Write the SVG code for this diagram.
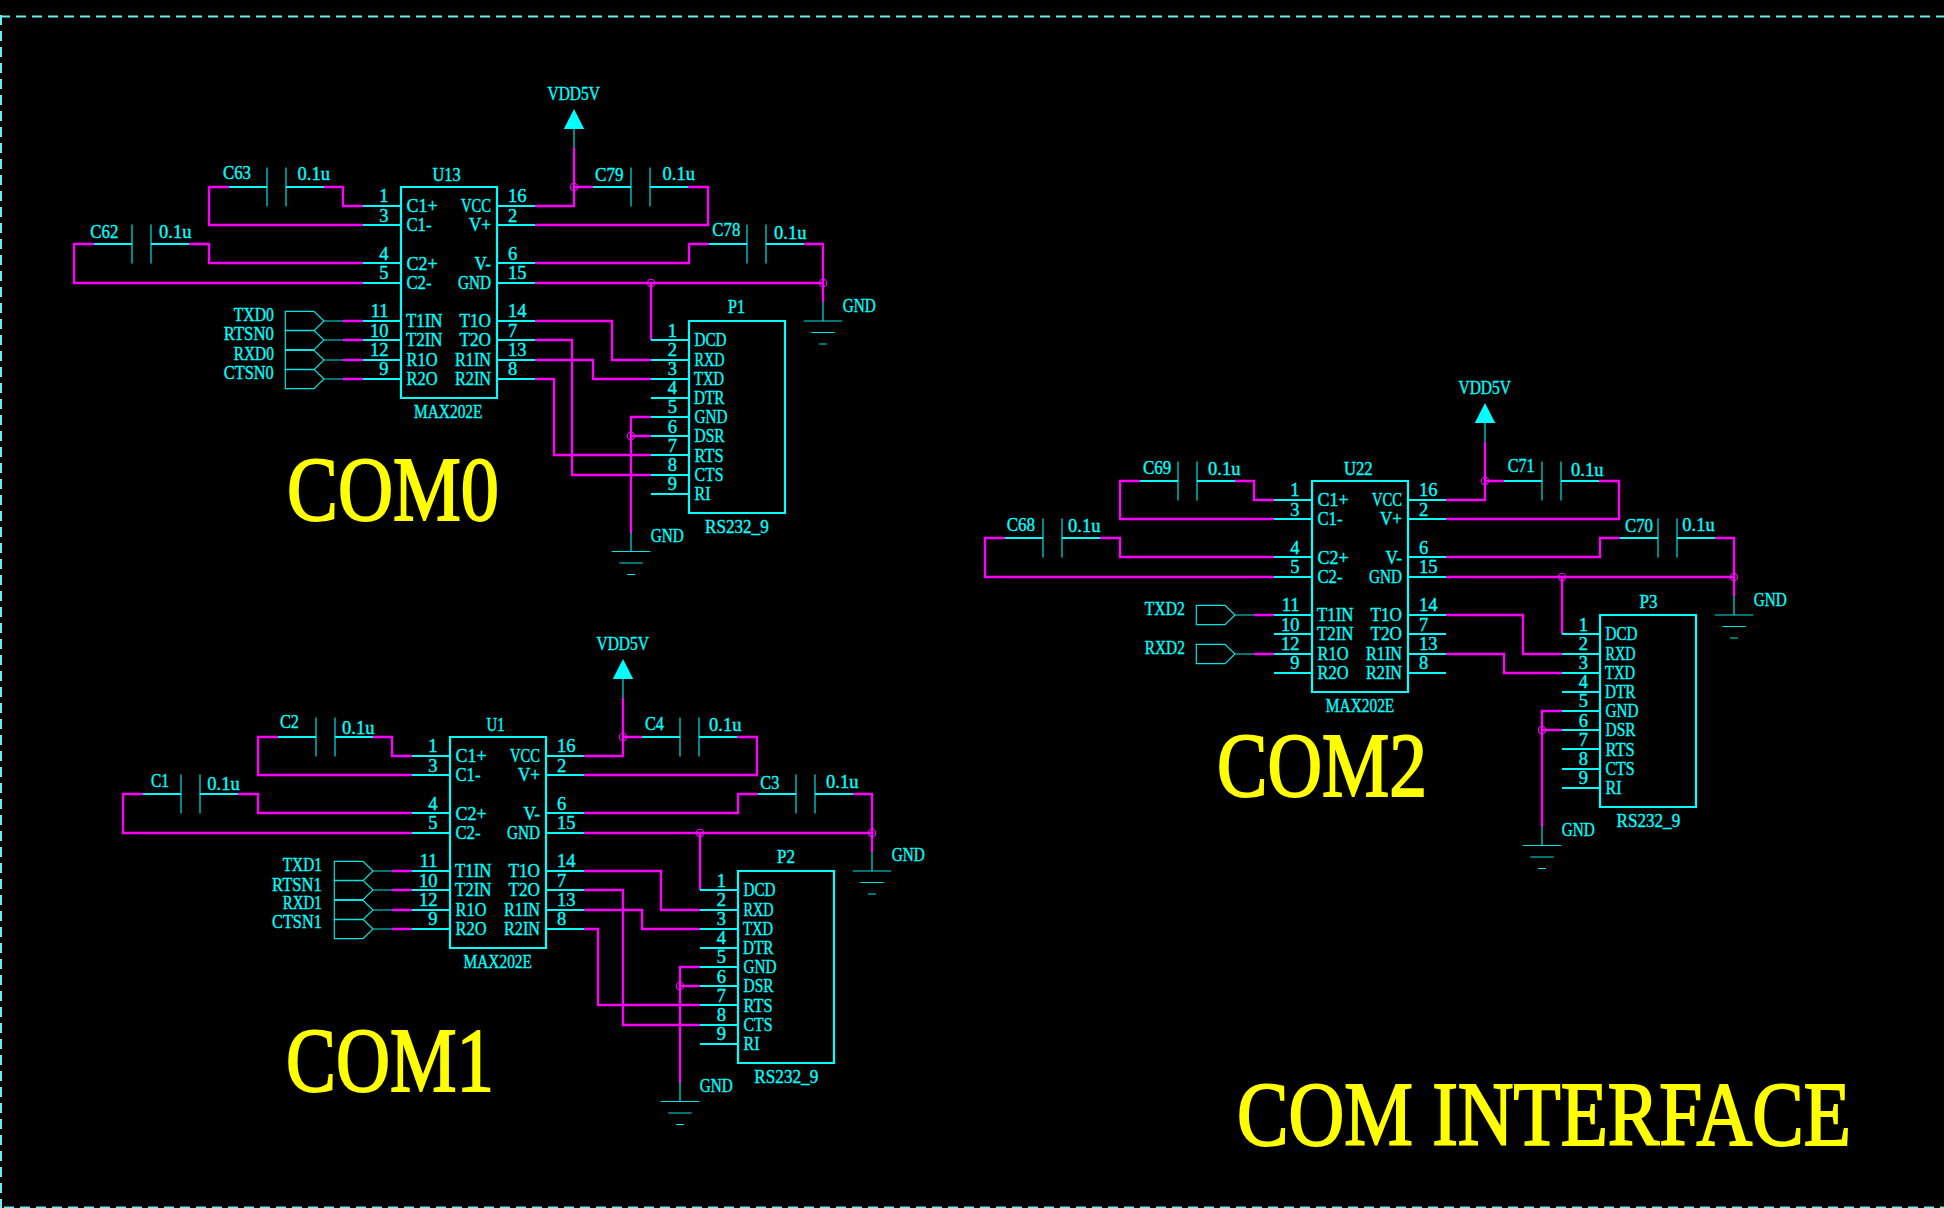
<svg xmlns="http://www.w3.org/2000/svg" width="1944" height="1208" viewBox="0 0 1944 1208">
<style>
text{font-family:"Liberation Serif","Times New Roman",serif}
.t text{font-size:18.5px;fill:#0ff;stroke:#0ff;stroke-width:.35}
.e{text-anchor:end}
.title{font-size:92px;fill:#ff0;stroke:#ff0;stroke-width:2}
.line{fill:none;stroke:#0ff;stroke-width:2.2}
.thin{fill:none;stroke:#00e4e4;stroke-width:1.2}
.wire{fill:none;stroke:#f0f;stroke-width:2.3}
.jct{fill:none;stroke:#f0f;stroke-width:1.1}
.frame{fill:none;stroke:#66eeee;stroke-width:2;stroke-dasharray:10 6}
</style>
<defs>
<g id="cap"><path class="thin" d="M0-19.5V19.5M19-19.5V19.5"/><path class="line" d="M-38 0H0M19 0H57"/></g>
<g id="gnd"><path class="thin" d="M0-19V0M-19.3 0H19.3M-11.7 11.5H11.7M-4 23H4"/></g>
<g id="vcc"><path d="M0-39L10.2-19H-10.2Z" fill="#0ff"/><path class="thin" d="M0-19V0"/></g>
<g id="port"><path class="thin" d="M0 0L-10-9.6H-38.7V9.6H-10ZM0 0H19"/></g>
<path id="ic" class="line" d="M401 187H497V398H401ZM363 206H401M363 225H401M363 263H401M363 283H401M363 321H401M363 340H401M363 360H401M363 379H401M497 206H535M497 225H535M497 263H535M497 283H535M497 321H535M497 340H535M497 360H535M497 379H535"/>
<path id="db9" class="line" d="M689 321H785V513H689ZM651 340H689M651 360H689M651 379H689M651 398H689M651 417H689M651 436H689M651 455H689M651 475H689M651 494H689"/>
<path id="net" class="wire" d="M363 206H343V187H323M229 187H209V225H363M189 244H209V263H363M94 244H74V283H363M535 206H574V148M574 187H593M688 187H708V225H535M535 263H689V244H709M804 244H823V302M535 283H823M651 283V340M535 321H612V360H651M535 360H593V379H651M651 417H631V533M651 436H631"/>
</defs>
<rect width="1944" height="1208" fill="#000"/>
<g id="frame"><path class="frame" d="M0 16.5H1944"/><path class="frame" d="M1 15V1208"/><path class="frame" d="M4 1207.5H1944"/></g>

<g id="connectors">
<g id="nets-com0"><use href="#net"/><path class="wire" d="M343 321H363M343 340H363M343 360H363M343 379H363M535 340H572V475H651M535 379H554V455H651"/>
<circle class="jct" cx="574" cy="187" r="3.7"/><circle class="jct" cx="651" cy="283" r="3.7"/><circle class="jct" cx="823" cy="283" r="3.7"/><circle class="jct" cx="631" cy="436" r="3.7"/></g>
<g id="nets-com1" transform="translate(49 550)"><use href="#net"/><path class="wire" d="M343 321H363M343 340H363M343 360H363M343 379H363M535 340H574V475H651M535 379H549V455H651"/>
<circle class="jct" cx="574" cy="187" r="3.7"/><circle class="jct" cx="651" cy="283" r="3.7"/><circle class="jct" cx="823" cy="283" r="3.7"/><circle class="jct" cx="631" cy="436" r="3.7"/></g>
<g id="nets-com2" transform="translate(911 294)"><use href="#net"/><path class="wire" d="M343 321H363M343 360H363"/>
<circle class="jct" cx="574" cy="187" r="3.7"/><circle class="jct" cx="651" cy="283" r="3.7"/><circle class="jct" cx="823" cy="283" r="3.7"/><circle class="jct" cx="631" cy="436" r="3.7"/></g>
</g>

<g id="com0" class="t">
<g id="U13"><use href="#ic"/>
<text x="432.5" y="181" textLength="28.3" lengthAdjust="spacingAndGlyphs">U13</text>
<text x="414" y="418" textLength="68.5" lengthAdjust="spacingAndGlyphs">MAX202E</text>
<text x="406.5" y="211.7" textLength="31" lengthAdjust="spacingAndGlyphs">C1+</text><text x="406.5" y="231" textLength="25" lengthAdjust="spacingAndGlyphs">C1-</text><text x="406.5" y="270" textLength="31" lengthAdjust="spacingAndGlyphs">C2+</text><text x="406.5" y="289" textLength="25" lengthAdjust="spacingAndGlyphs">C2-</text>
<text x="406" y="327" textLength="36.5" lengthAdjust="spacingAndGlyphs">T1IN</text><text x="406" y="346" textLength="36.5" lengthAdjust="spacingAndGlyphs">T2IN</text><text x="406.5" y="366" textLength="31" lengthAdjust="spacingAndGlyphs">R1O</text><text x="406.5" y="385" textLength="31" lengthAdjust="spacingAndGlyphs">R2O</text>
<text class="e" x="491" y="211.7" textLength="30" lengthAdjust="spacingAndGlyphs">VCC</text><text class="e" x="491" y="231" textLength="22" lengthAdjust="spacingAndGlyphs">V+</text><text class="e" x="491" y="270" textLength="16.5" lengthAdjust="spacingAndGlyphs">V-</text><text class="e" x="491" y="289" textLength="33" lengthAdjust="spacingAndGlyphs">GND</text>
<text class="e" x="491" y="327" textLength="31.5" lengthAdjust="spacingAndGlyphs">T1O</text><text class="e" x="491" y="346" textLength="31.5" lengthAdjust="spacingAndGlyphs">T2O</text><text class="e" x="491" y="366" textLength="36" lengthAdjust="spacingAndGlyphs">R1IN</text><text class="e" x="491" y="385" textLength="36" lengthAdjust="spacingAndGlyphs">R2IN</text>
<text class="e" x="388.5" y="202">1</text><text class="e" x="388.5" y="221.7">3</text><text class="e" x="388.5" y="260">4</text><text class="e" x="388.5" y="279.3">5</text><text class="e" x="388.5" y="317">11</text><text class="e" x="388.5" y="337">10</text><text class="e" x="388.5" y="356">12</text><text class="e" x="388.5" y="375">9</text>
<text x="508" y="202">16</text><text x="508" y="221.7">2</text><text x="508" y="260">6</text><text x="508" y="279.3">15</text><text x="508" y="317">14</text><text x="508" y="337">7</text><text x="508" y="356">13</text><text x="508" y="375">8</text></g>
<g id="C63"><use href="#cap" x="267" y="187"/><text x="223" y="179" textLength="28" lengthAdjust="spacingAndGlyphs">C63</text><text x="297.5" y="180.3">0.1u</text></g>
<g id="C62"><use href="#cap" x="132" y="244"/><text x="90.3" y="238.3" textLength="28" lengthAdjust="spacingAndGlyphs">C62</text><text x="159" y="237.7">0.1u</text></g>
<g id="C79"><use href="#cap" x="631" y="187"/><text x="595" y="181" textLength="28.5" lengthAdjust="spacingAndGlyphs">C79</text><text x="662.5" y="180.3">0.1u</text></g>
<g id="C78"><use href="#cap" x="747" y="244"/><text x="712.3" y="236.3" textLength="28" lengthAdjust="spacingAndGlyphs">C78</text><text x="774" y="239.3">0.1u</text></g>
<g id="VDD0"><use href="#vcc" x="574" y="148"/><text x="547.5" y="100" textLength="52.5" lengthAdjust="spacingAndGlyphs">VDD5V</text></g>
<g id="GND0a"><use href="#gnd" x="823" y="321"/><text x="842.7" y="312" textLength="33" lengthAdjust="spacingAndGlyphs">GND</text></g>
<g id="GND0b"><use href="#gnd" x="631" y="551.5"/><text x="650.7" y="542" textLength="33" lengthAdjust="spacingAndGlyphs">GND</text></g>
<g id="TXD0"><use href="#port" x="324" y="321"/><text class="e" x="273.8" y="321.3" textLength="40" lengthAdjust="spacingAndGlyphs">TXD0</text></g>
<g id="RTSN0"><use href="#port" x="324" y="340"/><text class="e" x="273.8" y="340.3" textLength="50" lengthAdjust="spacingAndGlyphs">RTSN0</text></g>
<g id="RXD0"><use href="#port" x="324" y="360"/><text class="e" x="273.8" y="360" textLength="40" lengthAdjust="spacingAndGlyphs">RXD0</text></g>
<g id="CTSN0"><use href="#port" x="324" y="379"/><text class="e" x="273.8" y="379.3" textLength="50" lengthAdjust="spacingAndGlyphs">CTSN0</text></g>
<g id="P1"><use href="#db9"/>
<text x="728" y="313" textLength="17" lengthAdjust="spacingAndGlyphs">P1</text><text x="705" y="533.3" textLength="63.7" lengthAdjust="spacingAndGlyphs">RS232_9</text>
<text x="694.5" y="346" textLength="32" lengthAdjust="spacingAndGlyphs">DCD</text><text x="694.5" y="365.7" textLength="30" lengthAdjust="spacingAndGlyphs">RXD</text><text x="694" y="384.7" textLength="30" lengthAdjust="spacingAndGlyphs">TXD</text><text x="694" y="403.7" textLength="30.5" lengthAdjust="spacingAndGlyphs">DTR</text><text x="694.5" y="422.7" textLength="33" lengthAdjust="spacingAndGlyphs">GND</text><text x="694.5" y="441.7" textLength="30" lengthAdjust="spacingAndGlyphs">DSR</text><text x="694.5" y="461.7" textLength="29" lengthAdjust="spacingAndGlyphs">RTS</text><text x="694.5" y="480.7" textLength="29" lengthAdjust="spacingAndGlyphs">CTS</text><text x="694.5" y="499.7" textLength="16" lengthAdjust="spacingAndGlyphs">RI</text>
<text class="e" x="677" y="336.7">1</text><text class="e" x="677" y="356">2</text><text class="e" x="677" y="375">3</text><text class="e" x="677" y="394">4</text><text class="e" x="677" y="413.3">5</text><text class="e" x="677" y="433">6</text><text class="e" x="677" y="452">7</text><text class="e" x="677" y="471">8</text><text class="e" x="677" y="490">9</text></g>
</g>

<g id="com1" class="t" transform="translate(49 550)">
<g id="U1"><use href="#ic"/>
<text x="437.5" y="181" textLength="18" lengthAdjust="spacingAndGlyphs">U1</text>
<text x="414.5" y="418" textLength="68.5" lengthAdjust="spacingAndGlyphs">MAX202E</text>
<text x="406.5" y="211.7" textLength="31" lengthAdjust="spacingAndGlyphs">C1+</text><text x="406.5" y="231" textLength="25" lengthAdjust="spacingAndGlyphs">C1-</text><text x="406.5" y="270" textLength="31" lengthAdjust="spacingAndGlyphs">C2+</text><text x="406.5" y="289" textLength="25" lengthAdjust="spacingAndGlyphs">C2-</text>
<text x="406" y="327" textLength="36.5" lengthAdjust="spacingAndGlyphs">T1IN</text><text x="406" y="346" textLength="36.5" lengthAdjust="spacingAndGlyphs">T2IN</text><text x="406.5" y="366" textLength="31" lengthAdjust="spacingAndGlyphs">R1O</text><text x="406.5" y="385" textLength="31" lengthAdjust="spacingAndGlyphs">R2O</text>
<text class="e" x="491" y="211.7" textLength="30" lengthAdjust="spacingAndGlyphs">VCC</text><text class="e" x="491" y="231" textLength="22" lengthAdjust="spacingAndGlyphs">V+</text><text class="e" x="491" y="270" textLength="16.5" lengthAdjust="spacingAndGlyphs">V-</text><text class="e" x="491" y="289" textLength="33" lengthAdjust="spacingAndGlyphs">GND</text>
<text class="e" x="491" y="327" textLength="31.5" lengthAdjust="spacingAndGlyphs">T1O</text><text class="e" x="491" y="346" textLength="31.5" lengthAdjust="spacingAndGlyphs">T2O</text><text class="e" x="491" y="366" textLength="36" lengthAdjust="spacingAndGlyphs">R1IN</text><text class="e" x="491" y="385" textLength="36" lengthAdjust="spacingAndGlyphs">R2IN</text>
<text class="e" x="388.5" y="202">1</text><text class="e" x="388.5" y="221.7">3</text><text class="e" x="388.5" y="260">4</text><text class="e" x="388.5" y="279.3">5</text><text class="e" x="388.5" y="317">11</text><text class="e" x="388.5" y="337">10</text><text class="e" x="388.5" y="356">12</text><text class="e" x="388.5" y="375">9</text>
<text x="508" y="202">16</text><text x="508" y="221.7">2</text><text x="508" y="260">6</text><text x="508" y="279.3">15</text><text x="508" y="317">14</text><text x="508" y="337">7</text><text x="508" y="356">13</text><text x="508" y="375">8</text></g>
<g id="C2"><use href="#cap" x="267" y="187"/><text x="231" y="178.3" textLength="19" lengthAdjust="spacingAndGlyphs">C2</text><text x="293" y="183.7">0.1u</text></g>
<g id="C1"><use href="#cap" x="132" y="244"/><text x="102" y="237.3" textLength="18" lengthAdjust="spacingAndGlyphs">C1</text><text x="158.3" y="240.3">0.1u</text></g>
<g id="C4"><use href="#cap" x="631" y="187"/><text x="596" y="180" textLength="19" lengthAdjust="spacingAndGlyphs">C4</text><text x="660" y="181.3">0.1u</text></g>
<g id="C3"><use href="#cap" x="747" y="244"/><text x="711.3" y="239" textLength="19" lengthAdjust="spacingAndGlyphs">C3</text><text x="777" y="238">0.1u</text></g>
<g id="VDD1"><use href="#vcc" x="574" y="148"/><text x="547.5" y="100" textLength="52.5" lengthAdjust="spacingAndGlyphs">VDD5V</text></g>
<g id="GND1a"><use href="#gnd" x="823" y="321"/><text x="842.7" y="311" textLength="33" lengthAdjust="spacingAndGlyphs">GND</text></g>
<g id="GND1b"><use href="#gnd" x="631" y="551.5"/><text x="650.7" y="541.7" textLength="33" lengthAdjust="spacingAndGlyphs">GND</text></g>
<g id="TXD1"><use href="#port" x="324" y="321"/><text class="e" x="272.8" y="321.3" textLength="39" lengthAdjust="spacingAndGlyphs">TXD1</text></g>
<g id="RTSN1"><use href="#port" x="324" y="340"/><text class="e" x="272.8" y="341.3" textLength="49.7" lengthAdjust="spacingAndGlyphs">RTSN1</text></g>
<g id="RXD1"><use href="#port" x="324" y="360"/><text class="e" x="272.8" y="359.3" textLength="39" lengthAdjust="spacingAndGlyphs">RXD1</text></g>
<g id="CTSN1"><use href="#port" x="324" y="379"/><text class="e" x="272.8" y="378.3" textLength="49.7" lengthAdjust="spacingAndGlyphs">CTSN1</text></g>
<g id="P2"><use href="#db9"/>
<text x="728" y="312.7" textLength="18" lengthAdjust="spacingAndGlyphs">P2</text><text x="705.3" y="532.7" textLength="64" lengthAdjust="spacingAndGlyphs">RS232_9</text>
<text x="694.5" y="346" textLength="32" lengthAdjust="spacingAndGlyphs">DCD</text><text x="694.5" y="365.7" textLength="30" lengthAdjust="spacingAndGlyphs">RXD</text><text x="694" y="384.7" textLength="30" lengthAdjust="spacingAndGlyphs">TXD</text><text x="694" y="403.7" textLength="30.5" lengthAdjust="spacingAndGlyphs">DTR</text><text x="694.5" y="422.7" textLength="33" lengthAdjust="spacingAndGlyphs">GND</text><text x="694.5" y="441.7" textLength="30" lengthAdjust="spacingAndGlyphs">DSR</text><text x="694.5" y="461.7" textLength="29" lengthAdjust="spacingAndGlyphs">RTS</text><text x="694.5" y="480.7" textLength="29" lengthAdjust="spacingAndGlyphs">CTS</text><text x="694.5" y="499.7" textLength="16" lengthAdjust="spacingAndGlyphs">RI</text>
<text class="e" x="677" y="336.7">1</text><text class="e" x="677" y="356">2</text><text class="e" x="677" y="375">3</text><text class="e" x="677" y="394">4</text><text class="e" x="677" y="413.3">5</text><text class="e" x="677" y="433">6</text><text class="e" x="677" y="452">7</text><text class="e" x="677" y="471">8</text><text class="e" x="677" y="490">9</text></g>
</g>

<g id="com2" class="t" transform="translate(911 294)">
<g id="U22"><use href="#ic"/>
<text x="433" y="181" textLength="28.7" lengthAdjust="spacingAndGlyphs">U22</text>
<text x="414.8" y="418" textLength="68.5" lengthAdjust="spacingAndGlyphs">MAX202E</text>
<text x="406.5" y="211.7" textLength="31" lengthAdjust="spacingAndGlyphs">C1+</text><text x="406.5" y="231" textLength="25" lengthAdjust="spacingAndGlyphs">C1-</text><text x="406.5" y="270" textLength="31" lengthAdjust="spacingAndGlyphs">C2+</text><text x="406.5" y="289" textLength="25" lengthAdjust="spacingAndGlyphs">C2-</text>
<text x="406" y="327" textLength="36.5" lengthAdjust="spacingAndGlyphs">T1IN</text><text x="406" y="346" textLength="36.5" lengthAdjust="spacingAndGlyphs">T2IN</text><text x="406.5" y="366" textLength="31" lengthAdjust="spacingAndGlyphs">R1O</text><text x="406.5" y="385" textLength="31" lengthAdjust="spacingAndGlyphs">R2O</text>
<text class="e" x="491" y="211.7" textLength="30" lengthAdjust="spacingAndGlyphs">VCC</text><text class="e" x="491" y="231" textLength="22" lengthAdjust="spacingAndGlyphs">V+</text><text class="e" x="491" y="270" textLength="16.5" lengthAdjust="spacingAndGlyphs">V-</text><text class="e" x="491" y="289" textLength="33" lengthAdjust="spacingAndGlyphs">GND</text>
<text class="e" x="491" y="327" textLength="31.5" lengthAdjust="spacingAndGlyphs">T1O</text><text class="e" x="491" y="346" textLength="31.5" lengthAdjust="spacingAndGlyphs">T2O</text><text class="e" x="491" y="366" textLength="36" lengthAdjust="spacingAndGlyphs">R1IN</text><text class="e" x="491" y="385" textLength="36" lengthAdjust="spacingAndGlyphs">R2IN</text>
<text class="e" x="388.5" y="202">1</text><text class="e" x="388.5" y="221.7">3</text><text class="e" x="388.5" y="260">4</text><text class="e" x="388.5" y="279.3">5</text><text class="e" x="388.5" y="317">11</text><text class="e" x="388.5" y="337">10</text><text class="e" x="388.5" y="356">12</text><text class="e" x="388.5" y="375">9</text>
<text x="508" y="202">16</text><text x="508" y="221.7">2</text><text x="508" y="260">6</text><text x="508" y="279.3">15</text><text x="508" y="317">14</text><text x="508" y="337">7</text><text x="508" y="356">13</text><text x="508" y="375">8</text></g>
<g id="C69"><use href="#cap" x="267" y="187"/><text x="232" y="180.3" textLength="28.3" lengthAdjust="spacingAndGlyphs">C69</text><text x="297" y="180.7">0.1u</text></g>
<g id="C68"><use href="#cap" x="132" y="244"/><text x="95.7" y="236.7" textLength="28.3" lengthAdjust="spacingAndGlyphs">C68</text><text x="157" y="237.7">0.1u</text></g>
<g id="C71"><use href="#cap" x="631" y="187"/><text x="596.7" y="178" textLength="27" lengthAdjust="spacingAndGlyphs">C71</text><text x="660" y="182.3">0.1u</text></g>
<g id="C70"><use href="#cap" x="747" y="244"/><text x="714" y="238.3" textLength="28" lengthAdjust="spacingAndGlyphs">C70</text><text x="771.3" y="237.3">0.1u</text></g>
<g id="VDD2"><use href="#vcc" x="574" y="148"/><text x="547.5" y="100" textLength="52.5" lengthAdjust="spacingAndGlyphs">VDD5V</text></g>
<g id="GND2a"><use href="#gnd" x="823" y="321"/><text x="842.7" y="311.7" textLength="33" lengthAdjust="spacingAndGlyphs">GND</text></g>
<g id="GND2b"><use href="#gnd" x="631" y="551.5"/><text x="650.7" y="541.7" textLength="33" lengthAdjust="spacingAndGlyphs">GND</text></g>
<g id="TXD2"><use href="#port" x="324" y="321"/><text class="e" x="273.8" y="321.3" textLength="40" lengthAdjust="spacingAndGlyphs">TXD2</text></g>
<g id="RXD2"><use href="#port" x="324" y="360"/><text class="e" x="273.8" y="360" textLength="40" lengthAdjust="spacingAndGlyphs">RXD2</text></g>
<g id="P3"><use href="#db9"/>
<text x="728.5" y="313.7" textLength="18" lengthAdjust="spacingAndGlyphs">P3</text><text x="705.5" y="533" textLength="63.7" lengthAdjust="spacingAndGlyphs">RS232_9</text>
<text x="694.5" y="346" textLength="32" lengthAdjust="spacingAndGlyphs">DCD</text><text x="694.5" y="365.7" textLength="30" lengthAdjust="spacingAndGlyphs">RXD</text><text x="694" y="384.7" textLength="30" lengthAdjust="spacingAndGlyphs">TXD</text><text x="694" y="403.7" textLength="30.5" lengthAdjust="spacingAndGlyphs">DTR</text><text x="694.5" y="422.7" textLength="33" lengthAdjust="spacingAndGlyphs">GND</text><text x="694.5" y="441.7" textLength="30" lengthAdjust="spacingAndGlyphs">DSR</text><text x="694.5" y="461.7" textLength="29" lengthAdjust="spacingAndGlyphs">RTS</text><text x="694.5" y="480.7" textLength="29" lengthAdjust="spacingAndGlyphs">CTS</text><text x="694.5" y="499.7" textLength="16" lengthAdjust="spacingAndGlyphs">RI</text>
<text class="e" x="677" y="336.7">1</text><text class="e" x="677" y="356">2</text><text class="e" x="677" y="375">3</text><text class="e" x="677" y="394">4</text><text class="e" x="677" y="413.3">5</text><text class="e" x="677" y="433">6</text><text class="e" x="677" y="452">7</text><text class="e" x="677" y="471">8</text><text class="e" x="677" y="490">9</text></g>
</g>

<g id="titles">
<text class="title" x="287" y="520" textLength="212" lengthAdjust="spacingAndGlyphs">COM0</text>
<text class="title" x="286" y="1091" textLength="208" lengthAdjust="spacingAndGlyphs">COM1</text>
<text class="title" x="1217" y="796" textLength="210" lengthAdjust="spacingAndGlyphs">COM2</text>
<text class="title" transform="translate(1237 1145) scale(.839 1)" x="0" y="0">COM INTERFACE</text>
</g>
</svg>
